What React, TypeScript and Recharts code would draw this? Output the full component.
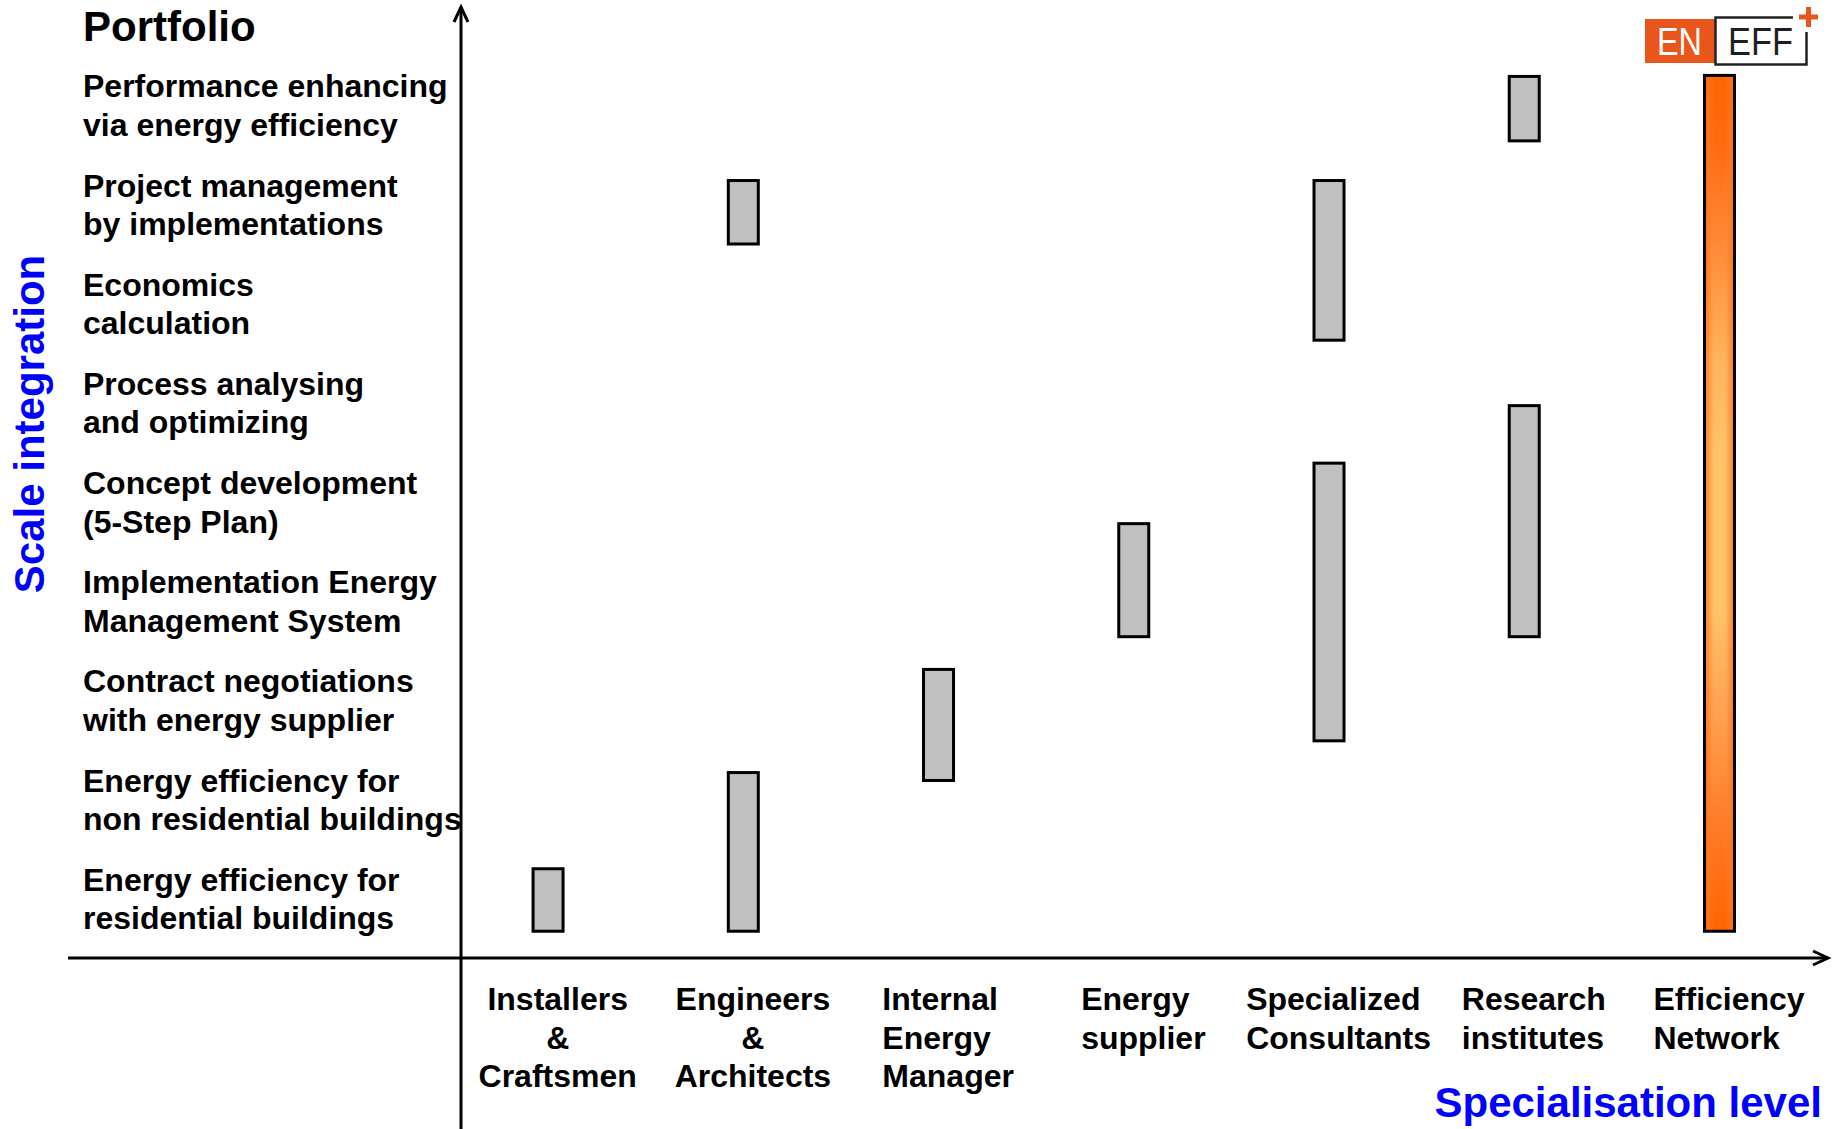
import React from 'react'
import { BarChart, Bar, XAxis, YAxis, Label } from 'recharts'

// columns: who offers the services (specialisation level)
const providers = [
  'Installers\n&\nCraftsmen',
  'Engineers\n&\nArchitects',
  'Internal\nEnergy\nManager',
  'Energy\nsupplier',
  'Specialized\nConsultants',
  'Research\ninstitutes',
  'Efficiency\nNetwork',
]
const providerCentered = [true, true, false, false, false, false, false]

// rows: portfolio of services, bottom to top (scale integration)
const services = [
  'Energy efficiency for\nresidential buildings',
  'Energy efficiency for\nnon residential buildings',
  'Contract negotiations\nwith energy supplier',
  'Implementation Energy\nManagement System',
  'Concept development\n(5-Step Plan)',
  'Process analysing\nand optimizing',
  'Economics\ncalculation',
  'Project management\nby implementations',
  'Performance enhancing\nvia energy efficiency',
]
const serviceLevels = [1, 2, 3, 4, 5, 6, 7, 8, 9]

// covered range of services per provider (row units), lower and upper block
const lowerFrom = [0.67, 0.67, 2.19, 3.64, 2.59, 3.64, 0.67]
const lowerTo = [1.3, 2.27, 3.31, 4.78, 5.39, 5.97, 9.3]
const upperFrom: (number | null)[] = [null, 7.6, null, null, 6.63, 8.64, null]
const upperTo: (number | null)[] = [null, 8.24, null, null, 8.24, 9.29, null]

const W = 1838
const H = 1129
const PLOT_LEFT = 461
const PLOT_TOP = 6
const PLOT_RIGHT = 1829
const PLOT_BOTTOM = 958
const X_DOMAIN: [number, number] = [0.556, 7.563]
const Y_DOMAIN: [number, number] = [0.4, 10]

const FONT = '"Liberation Sans", Arial, Helvetica, sans-serif'
const ORANGE = '#E8561C'
const BLUE = '#0000FF'
const LINE_H = 38.6

const data = providers.map((name, i) => ({
  pos: i + 1,
  name,
  base: lowerFrom[i],
  low: lowerTo[i] - lowerFrom[i],
  gap: upperFrom[i] != null ? (upperFrom[i] as number) - lowerTo[i] : 0,
  high: upperFrom[i] != null ? (upperTo[i] as number) - (upperFrom[i] as number) : 0,
}))

let ctx: CanvasRenderingContext2D | null = null
function textWidth(s: string) {
  if (!ctx && typeof document !== 'undefined') ctx = document.createElement('canvas').getContext('2d')
  if (!ctx) return s.length * 17
  ctx.font = `bold 32px ${FONT}`
  return ctx.measureText(s).width
}

function ProviderTick({ x, payload }: any) {
  const i = Math.round(payload.value) - 1
  if (i < 0 || i >= providers.length) return null
  const lines = providers[i].split('\n')
  const centered = providerCentered[i]
  const w = Math.max(...lines.map(textWidth))
  const tx = centered ? x + 10 : x + 10 - w / 2
  return (
    <text
      x={tx}
      y={PLOT_BOTTOM + 52}
      textAnchor={centered ? 'middle' : 'start'}
      fontFamily={FONT}
      fontWeight="bold"
      fontSize={32}
      fill="#000"
    >
      {lines.map((l, k) => (
        <tspan key={k} x={tx} dy={k === 0 ? 0 : LINE_H}>
          {l}
        </tspan>
      ))}
    </text>
  )
}

function ServiceTick({ y, payload }: any) {
  const i = Math.round(payload.value) - 1
  if (i < 0 || i >= services.length) return null
  const lines = services[i].split('\n')
  return (
    <text x={83} y={y - 7.8} textAnchor="start" fontFamily={FONT} fontWeight="bold" fontSize={32} fill="#000">
      {lines.map((l, k) => (
        <tspan key={k} x={83} dy={k === 0 ? 0 : LINE_H}>
          {l}
        </tspan>
      ))}
    </text>
  )
}

// gray block, or the glowing orange one for the efficiency network
function Segment(props: any) {
  const { x, y, width, height, payload, index } = props
  if (!height || !width) return null
  const top = Math.min(y, y + height)
  const h = Math.abs(height)
  const name = payload?.name ?? providers[index] ?? ''
  const net = name.startsWith('Efficiency')
  return (
    <g>
      <rect x={x} y={top} width={width} height={h} fill={net ? 'url(#netV)' : '#C0C0C0'} />
      {net && <rect x={x} y={top} width={width} height={h} fill="url(#netH)" />}
      <rect x={x} y={top} width={width} height={h} fill="none" stroke="#000" strokeWidth={3} />
    </g>
  )
}

function Overlay() {
  return (
    <svg width={W} height={H} style={{ position: 'absolute', left: 0, top: 0, pointerEvents: 'none' }}>
      {/* axis lines running past the plot, with arrow heads */}
      <g stroke="#000" strokeWidth={3} fill="none">
        <line x1={PLOT_LEFT} y1={H} x2={PLOT_LEFT} y2={PLOT_TOP + 1} />
        <polyline points={`${PLOT_LEFT - 7},${PLOT_TOP + 16} ${PLOT_LEFT},${PLOT_TOP + 1} ${PLOT_LEFT + 7},${PLOT_TOP + 16}`} />
        <line x1={68} y1={PLOT_BOTTOM} x2={PLOT_RIGHT - 1} y2={PLOT_BOTTOM} />
        <polyline points={`${PLOT_RIGHT - 16},${PLOT_BOTTOM - 7} ${PLOT_RIGHT - 1},${PLOT_BOTTOM} ${PLOT_RIGHT - 16},${PLOT_BOTTOM + 7}`} />
      </g>
      {/* EN EFF+ mark */}
      <rect x={1645} y={19} width={70} height={44} fill={ORANGE} />
      <text x={1657} y={55} fontFamily={FONT} fontSize={38} fill="#fff" textLength={45} lengthAdjust="spacingAndGlyphs">
        EN
      </text>
      <path d="M1793,17.5 H1715.5 V64.5 H1806.5 V32" stroke="#222" strokeWidth={2.5} fill="#fff" />
      <text x={1728} y={55} fontFamily={FONT} fontSize={38} fill="#1e1e1e" textLength={65} lengthAdjust="spacingAndGlyphs">
        EFF
      </text>
      <rect x={1799} y={14.5} width={19} height={5} fill={ORANGE} />
      <rect x={1806} y={7} width={5} height={20} fill={ORANGE} />
    </svg>
  )
}

export default function App() {
  return (
    <div style={{ position: 'absolute', left: 0, top: 0, width: W, height: H, background: '#fff' }}>
      <BarChart
        width={W}
        height={H}
        data={data}
        margin={{ top: PLOT_TOP, right: W - PLOT_RIGHT, bottom: 0, left: 0 }}
      >
        <defs>
          <linearGradient id="netV" x1="0" y1="0" x2="0" y2="1">
            <stop offset="0%" stopColor="#FF6400" />
            <stop offset="8%" stopColor="#FF6A10" />
            <stop offset="20%" stopColor="#FF8A3A" />
            <stop offset="33%" stopColor="#FFB45C" />
            <stop offset="45%" stopColor="#FFC468" />
            <stop offset="62%" stopColor="#FFC468" />
            <stop offset="75%" stopColor="#FFA050" />
            <stop offset="88%" stopColor="#FF7A28" />
            <stop offset="100%" stopColor="#FF6400" />
          </linearGradient>
          <linearGradient id="netH" x1="0" y1="0" x2="1" y2="0">
            <stop offset="0%" stopColor="#FF6A10" stopOpacity={0.9} />
            <stop offset="15%" stopColor="#FF7A20" stopOpacity={0.5} />
            <stop offset="32%" stopColor="#FF8A30" stopOpacity={0} />
            <stop offset="68%" stopColor="#FF8A30" stopOpacity={0} />
            <stop offset="85%" stopColor="#FF7A20" stopOpacity={0.5} />
            <stop offset="100%" stopColor="#FF6A10" stopOpacity={0.9} />
          </linearGradient>
        </defs>
        <XAxis
          type="number"
          dataKey="pos"
          domain={X_DOMAIN}
          allowDataOverflow
          ticks={[1, 2, 3, 4, 5, 6, 7]}
          interval={0}
          tick={<ProviderTick />}
          axisLine={false}
          tickLine={false}
          height={H - PLOT_BOTTOM}
        >
          <Label
            content={() => (
              <text x={1822} y={1117} textAnchor="end" fontFamily={FONT} fontWeight="bold" fontSize={42} fill={BLUE}>
                Specialisation level
              </text>
            )}
          />
        </XAxis>
        <YAxis
          type="number"
          domain={Y_DOMAIN}
          allowDataOverflow
          ticks={serviceLevels}
          interval={0}
          tick={<ServiceTick />}
          axisLine={false}
          tickLine={false}
          width={PLOT_LEFT}
        >
          <Label
            content={() => (
              <g>
                <text x={83} y={41} fontFamily={FONT} fontWeight="bold" fontSize={42} fill="#000">
                  Portfolio
                </text>
                <text
                  x={44}
                  y={424}
                  transform="rotate(-90 44 424)"
                  textAnchor="middle"
                  fontFamily={FONT}
                  fontWeight="bold"
                  fontSize={42}
                  fill={BLUE}
                >
                  Scale integration
                </text>
              </g>
            )}
          />
        </YAxis>
        <Bar dataKey="base" stackId="s" fill="transparent" barSize={30} isAnimationActive={false} />
        <Bar dataKey="low" stackId="s" fill="#C0C0C0" barSize={30} shape={Segment} isAnimationActive={false} />
        <Bar dataKey="gap" stackId="s" fill="transparent" barSize={30} isAnimationActive={false} />
        <Bar dataKey="high" stackId="s" fill="#C0C0C0" barSize={30} shape={Segment} isAnimationActive={false} />
      </BarChart>
      <Overlay />
    </div>
  )
}
